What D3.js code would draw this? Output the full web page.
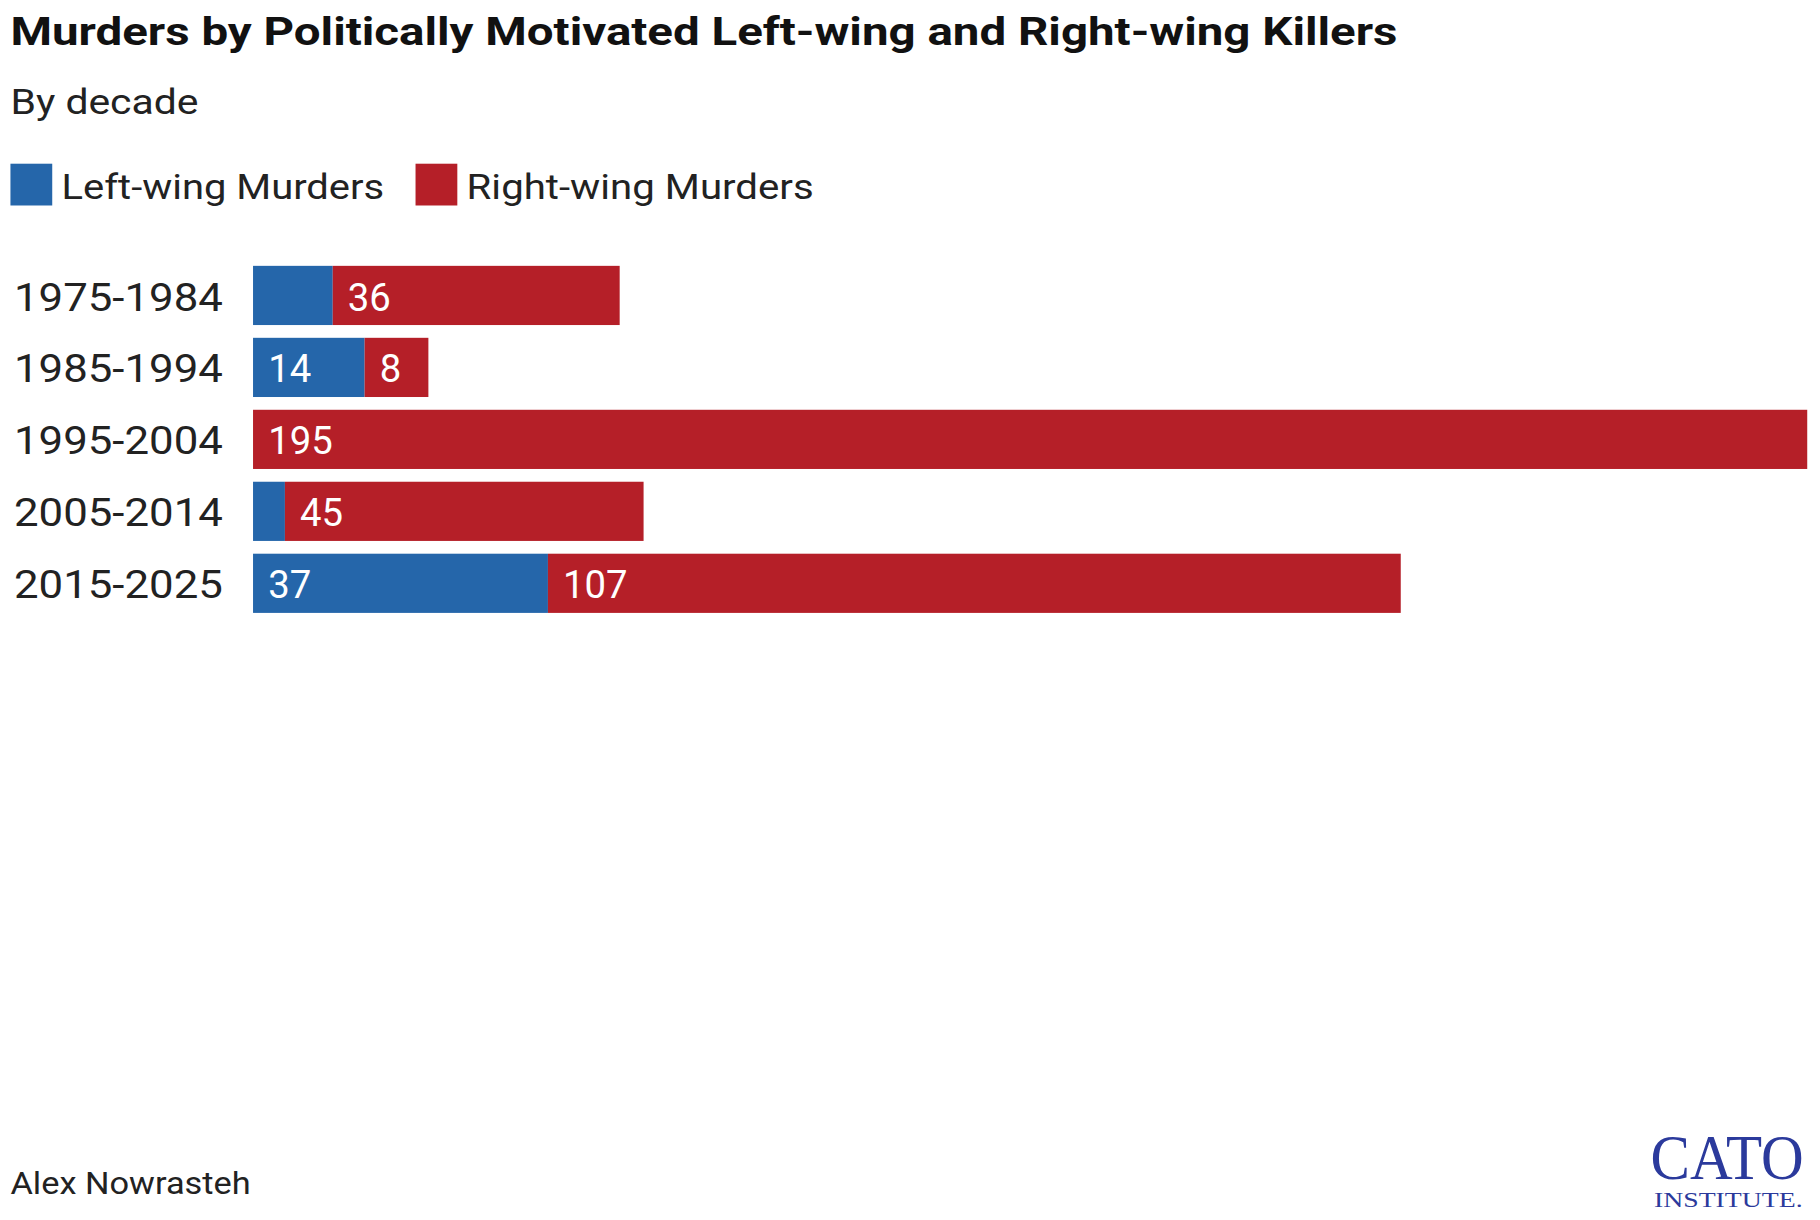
<!DOCTYPE html><html><head><meta charset="utf-8">
<script src="https://cdn.jsdelivr.net/npm/d3@7"></script>
<style>body{margin:0;background:#fff}svg{display:block}</style></head><body>
<svg id="c" width="1820" height="1220" viewBox="0 0 1568 1051"></svg>
<script>
const categories=["1975-1984","1985-1994","1995-2004","2005-2014","2015-2025"];
const leftWing=[10,14,0,4,37];
const rightWing=[36,8,195,45,107];
const seriesNames=["Left-wing Murders","Right-wing Murders"];
const colors=["#2566aa","#b51f28"];
const svg=d3.select("#c");
const F="Roboto, 'Liberation Sans', sans-serif";
const fit=(t,w)=>t.attr("textLength",w).attr("lengthAdjust","spacingAndGlyphs");
fit(svg.append("text").attr("x",9).attr("y",39).attr("font-family",F).attr("font-weight",700).attr("font-size",34).attr("fill","#111").text("Murders by Politically Motivated Left-wing and Right-wing Killers"),1195);
fit(svg.append("text").attr("x",9).attr("y",98).attr("font-family",F).attr("font-size",31).attr("fill","#222").text("By decade"),162);
const legX=[9,358],legW=[278,299];
seriesNames.forEach((n,i)=>{
  svg.append("rect").attr("x",legX[i]).attr("y",141).attr("width",36).attr("height",36).attr("fill",colors[i]);
  fit(svg.append("text").attr("x",legX[i]+44).attr("y",171).attr("font-family",F).attr("font-size",31).attr("fill","#222").text(n),legW[i]);
});
const x=d3.scaleLinear().domain([0,195]).range([218,1557]);
const y=d3.scaleBand().domain(categories).range([229,229+62*5-11]).paddingInner(11/62).paddingOuter(0);
const rows=categories.map((c,i)=>({c,l:leftWing[i],r:rightWing[i]}));
const g=svg.append("g");
rows.forEach(d=>{
  fit(g.append("text").attr("x",12).attr("y",y(d.c)+y.bandwidth()/2+13).attr("font-family",F).attr("font-size",33).attr("fill","#222").text(d.c),180);
  [[0,d.l],[d.l,d.l+d.r]].forEach(([a,b],i)=>{
    if(b-a<=0)return;
    g.append("rect").attr("x",x(a)).attr("y",y(d.c)).attr("width",x(b)-x(a)).attr("height",y.bandwidth()).attr("fill",colors[i]);
    if(b-a>=6 && !(i===0&&b-a<12))
      g.append("text").attr("x",x(a)+13).attr("y",y(d.c)+y.bandwidth()/2+13).attr("font-family",F).attr("font-size",33).attr("fill","#fff").text(b-a);
  });
});
fit(svg.append("text").attr("x",9).attr("y",1029).attr("font-family",F).attr("font-size",27).attr("fill","#222").text("Alex Nowrasteh"),207);
fit(svg.append("text").attr("x",1422).attr("y",1016).attr("font-family","'Liberation Serif', serif").attr("font-size",54).attr("fill","#2b3a9c").text("CATO"),132);
fit(svg.append("text").attr("x",1425).attr("y",1040).attr("font-family","'Liberation Serif', serif").attr("font-size",18).attr("fill","#2b3a9c").text("INSTITUTE."),128);
</script></body></html>
